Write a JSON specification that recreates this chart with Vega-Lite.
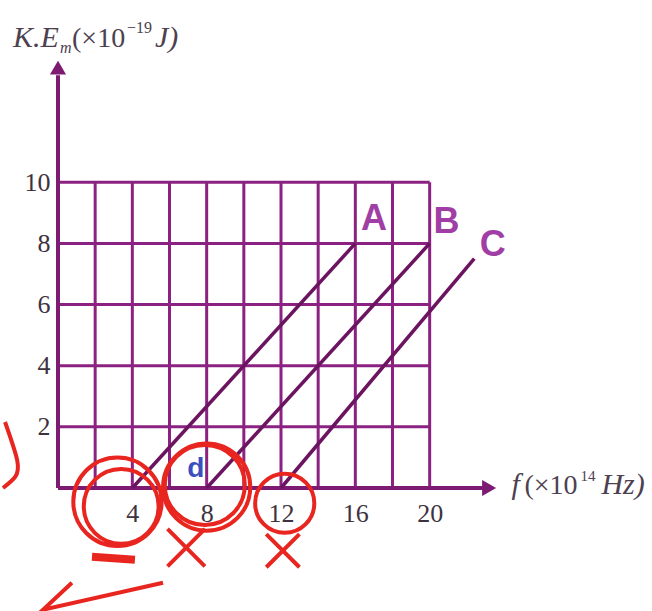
{
  "$schema": "https://vega.github.io/schema/vega-lite/v6.json",
  "width": 446,
  "height": 428,
  "autosize": {"type": "none"},
  "padding": {"left": 58, "top": 60, "right": 148, "bottom": 123},
  "background": "white",
  "config": {"view": {"stroke": null}},
  "datasets": {
    "gridx": [{"f": 2}, {"f": 4}, {"f": 6}, {"f": 8}, {"f": 10}, {"f": 12}, {"f": 14}, {"f": 16}, {"f": 18}, {"f": 20}],
    "gridy": [{"ke": 2}, {"ke": 4}, {"ke": 6}, {"ke": 8}, {"ke": 10}],
    "lines": [
      {"series": "A", "f": 4, "ke": 0},
      {"series": "A", "f": 16, "ke": 8},
      {"series": "B", "f": 8, "ke": 0},
      {"series": "B", "f": 20, "ke": 8},
      {"series": "C", "f": 12, "ke": 0},
      {"series": "C", "f": 22.4, "ke": 7.5}
    ],
    "labels": [
      {"series": "A", "f": 17.0, "ke": 8.8},
      {"series": "B", "f": 20.9, "ke": 8.7},
      {"series": "C", "f": 23.4, "ke": 7.95}
    ],
    "one": [{}],
    "check": [
      {"o": 1, "f": 0.75, "ke": -3.1},
      {"o": 2, "f": -0.8, "ke": -3.98},
      {"o": 3, "f": 5.65, "ke": -3.1}
    ],
    "bracket": [
      {"o": 1, "f": -2.85, "ke": 2.16},
      {"o": 2, "f": -2.2, "ke": 0.92},
      {"o": 3, "f": -2.31, "ke": 0.36},
      {"o": 4, "f": -2.96, "ke": 0.0}
    ],
    "blob": [
      {"o": 1, "f": 1.83, "ke": -2.25},
      {"o": 2, "f": 4.14, "ke": -2.35}
    ]
  },
  "layer": [
    {
      "data": {"name": "gridx"},
      "mark": {"type": "rule", "color": "#8b2282", "strokeWidth": 3},
      "encoding": {
        "x": {
          "field": "f", "type": "quantitative",
          "scale": {"domain": [0, 24], "nice": false, "zero": false},
          "axis": {
            "values": [4, 8, 12, 16, 20], "domain": false, "ticks": false, "grid": false,
            "title": null, "labelFont": "Liberation Serif", "labelFontSize": 26,
            "labelColor": "#3d3340", "labelPadding": 12
          }
        },
        "y": {
          "datum": 0, "type": "quantitative",
          "scale": {"domain": [0, 14], "nice": false, "zero": false},
          "axis": {
            "values": [2, 4, 6, 8, 10], "domain": false, "ticks": false, "grid": false,
            "title": null, "labelFont": "Liberation Serif", "labelFontSize": 26,
            "labelColor": "#3d3340", "labelPadding": 8
          }
        },
        "y2": {"datum": 10}
      }
    },
    {
      "data": {"name": "gridy"},
      "mark": {"type": "rule", "color": "#8b2282", "strokeWidth": 3},
      "encoding": {
        "y": {"field": "ke", "type": "quantitative"},
        "x": {"datum": 0, "type": "quantitative"},
        "x2": {"datum": 20}
      }
    },
    {
      "data": {"name": "one"},
      "mark": {"type": "rule", "color": "#7d1a72", "strokeWidth": 4},
      "encoding": {
        "x": {"datum": 0, "type": "quantitative"},
        "x2": {"datum": 23.0},
        "y": {"datum": 0, "type": "quantitative"}
      }
    },
    {
      "data": {"name": "one"},
      "mark": {"type": "rule", "color": "#7d1a72", "strokeWidth": 4},
      "encoding": {
        "x": {"datum": 0, "type": "quantitative"},
        "y": {"datum": 0, "type": "quantitative"},
        "y2": {"datum": 13.5}
      }
    },
    {
      "data": {"name": "one"},
      "mark": {"type": "point", "shape": "triangle-right", "filled": true, "color": "#7d1a72", "opacity": 1, "size": 260},
      "encoding": {
        "x": {"datum": 23.2, "type": "quantitative"},
        "y": {"datum": 0, "type": "quantitative"}
      }
    },
    {
      "data": {"name": "one"},
      "mark": {"type": "point", "shape": "triangle-up", "filled": true, "color": "#7d1a72", "opacity": 1, "size": 260},
      "encoding": {
        "x": {"datum": 0, "type": "quantitative"},
        "y": {"datum": 13.75, "type": "quantitative"}
      }
    },
    {
      "data": {"name": "lines"},
      "mark": {"type": "line", "color": "#6b1460", "strokeWidth": 3.5},
      "encoding": {
        "x": {"field": "f", "type": "quantitative"},
        "y": {"field": "ke", "type": "quantitative"},
        "detail": {"field": "series"}
      }
    },
    {
      "data": {"name": "labels"},
      "mark": {"type": "text", "font": "Liberation Sans", "fontWeight": "bold", "fontSize": 36, "color": "#a03ea6", "baseline": "middle", "align": "center"},
      "encoding": {
        "x": {"field": "f", "type": "quantitative"},
        "y": {"field": "ke", "type": "quantitative"},
        "text": {"field": "series"}
      }
    },
    {
      "data": {"name": "one"},
      "mark": {"type": "text", "font": "Liberation Sans", "fontWeight": "bold", "fontSize": 28, "color": "#3a4fc0", "baseline": "middle", "align": "center"},
      "encoding": {
        "x": {"datum": 7.42, "type": "quantitative"},
        "y": {"datum": 0.62, "type": "quantitative"},
        "text": {"value": "d"}
      }
    },
    {
      "data": {"name": "one"},
      "mark": {"type": "text", "font": "Liberation Serif", "fontStyle": "italic", "fontSize": 30, "color": "#4d4150", "baseline": "alphabetic", "align": "left"},
      "encoding": {
        "x": {"datum": -2.42, "type": "quantitative"},
        "y": {"datum": 14.41, "type": "quantitative"},
        "text": {"value": "K.E"}
      }
    },
    {
      "data": {"name": "one"},
      "mark": {"type": "text", "font": "Liberation Serif", "fontStyle": "italic", "fontSize": 16, "color": "#4d4150", "baseline": "alphabetic", "align": "left", "dx": 47, "dy": 6},
      "encoding": {
        "x": {"datum": -2.42, "type": "quantitative"},
        "y": {"datum": 14.41, "type": "quantitative"},
        "text": {"value": "m"}
      }
    },
    {
      "data": {"name": "one"},
      "mark": {"type": "text", "font": "Liberation Serif", "fontSize": 28, "color": "#4d4150", "baseline": "alphabetic", "align": "left", "dx": 59},
      "encoding": {
        "x": {"datum": -2.42, "type": "quantitative"},
        "y": {"datum": 14.41, "type": "quantitative"},
        "text": {"value": "(×10"}
      }
    },
    {
      "data": {"name": "one"},
      "mark": {"type": "text", "font": "Liberation Serif", "fontSize": 16, "color": "#4d4150", "baseline": "alphabetic", "align": "left", "dx": 114, "dy": -14},
      "encoding": {
        "x": {"datum": -2.42, "type": "quantitative"},
        "y": {"datum": 14.41, "type": "quantitative"},
        "text": {"value": "−19"}
      }
    },
    {
      "data": {"name": "one"},
      "mark": {"type": "text", "font": "Liberation Serif", "fontStyle": "italic", "fontSize": 30, "color": "#4d4150", "baseline": "alphabetic", "align": "left", "dx": 142},
      "encoding": {
        "x": {"datum": -2.42, "type": "quantitative"},
        "y": {"datum": 14.41, "type": "quantitative"},
        "text": {"value": "J)"}
      }
    },
    {
      "data": {"name": "one"},
      "mark": {"type": "text", "font": "Liberation Serif", "fontStyle": "italic", "fontSize": 30, "color": "#4d4150", "baseline": "alphabetic", "align": "left"},
      "encoding": {
        "x": {"datum": 24.4, "type": "quantitative"},
        "y": {"datum": -0.2, "type": "quantitative"},
        "text": {"value": "f"}
      }
    },
    {
      "data": {"name": "one"},
      "mark": {"type": "text", "font": "Liberation Serif", "fontSize": 28, "color": "#4d4150", "baseline": "alphabetic", "align": "left", "dx": 13},
      "encoding": {
        "x": {"datum": 24.4, "type": "quantitative"},
        "y": {"datum": -0.2, "type": "quantitative"},
        "text": {"value": "(×10"}
      }
    },
    {
      "data": {"name": "one"},
      "mark": {"type": "text", "font": "Liberation Serif", "fontSize": 15, "color": "#4d4150", "baseline": "alphabetic", "align": "left", "dx": 69, "dy": -13},
      "encoding": {
        "x": {"datum": 24.4, "type": "quantitative"},
        "y": {"datum": -0.2, "type": "quantitative"},
        "text": {"value": "14"}
      }
    },
    {
      "data": {"name": "one"},
      "mark": {"type": "text", "font": "Liberation Serif", "fontStyle": "italic", "fontSize": 30, "color": "#4d4150", "baseline": "alphabetic", "align": "left", "dx": 90},
      "encoding": {
        "x": {"datum": 24.4, "type": "quantitative"},
        "y": {"datum": -0.2, "type": "quantitative"},
        "text": {"value": "Hz)"}
      }
    },
    {
      "data": {"name": "one"},
      "mark": {"type": "point", "shape": "circle", "filled": false, "color": "#e8251f", "strokeWidth": 4, "opacity": 1, "size": 7800},
      "encoding": {
        "x": {"datum": 3.2, "type": "quantitative"},
        "y": {"datum": -0.45, "type": "quantitative"}
      }
    },
    {
      "data": {"name": "one"},
      "mark": {"type": "point", "shape": "circle", "filled": false, "color": "#e8251f", "strokeWidth": 4, "opacity": 1, "size": 5600},
      "encoding": {
        "x": {"datum": 3.4, "type": "quantitative"},
        "y": {"datum": -0.6, "type": "quantitative"}
      }
    },
    {
      "data": {"name": "one"},
      "mark": {"type": "point", "shape": "circle", "filled": false, "color": "#e8251f", "strokeWidth": 4, "opacity": 1, "size": 7600},
      "encoding": {
        "x": {"datum": 8.0, "type": "quantitative"},
        "y": {"datum": 0.03, "type": "quantitative"}
      }
    },
    {
      "data": {"name": "one"},
      "mark": {"type": "point", "shape": "circle", "filled": false, "color": "#e8251f", "strokeWidth": 4, "opacity": 1, "size": 6400},
      "encoding": {
        "x": {"datum": 7.9, "type": "quantitative"},
        "y": {"datum": 0.1, "type": "quantitative"}
      }
    },
    {
      "data": {"name": "one"},
      "mark": {"type": "point", "shape": "circle", "filled": false, "color": "#e8251f", "strokeWidth": 4, "opacity": 1, "size": 3500},
      "encoding": {
        "x": {"datum": 12.2, "type": "quantitative"},
        "y": {"datum": -0.5, "type": "quantitative"}
      }
    },
    {
      "data": {"name": "one"},
      "mark": {"type": "point", "shape": "M-1,-1L1,1M-1,1L1,-1", "filled": false, "color": "#e8251f", "strokeWidth": 4, "opacity": 1, "size": 1400},
      "encoding": {
        "x": {"datum": 6.9, "type": "quantitative"},
        "y": {"datum": -1.95, "type": "quantitative"}
      }
    },
    {
      "data": {"name": "one"},
      "mark": {"type": "point", "shape": "M-1,-1L1,1M-1,1L1,-1", "filled": false, "color": "#e8251f", "strokeWidth": 4, "opacity": 1, "size": 1100},
      "encoding": {
        "x": {"datum": 12.1, "type": "quantitative"},
        "y": {"datum": -2.05, "type": "quantitative"}
      }
    },
    {
      "data": {"name": "check"},
      "mark": {"type": "line", "color": "#e8251f", "strokeWidth": 4},
      "encoding": {
        "x": {"field": "f", "type": "quantitative"},
        "y": {"field": "ke", "type": "quantitative"},
        "order": {"field": "o"}
      }
    },
    {
      "data": {"name": "bracket"},
      "mark": {"type": "line", "color": "#e8251f", "strokeWidth": 4, "interpolate": "natural"},
      "encoding": {
        "x": {"field": "f", "type": "quantitative"},
        "y": {"field": "ke", "type": "quantitative"},
        "order": {"field": "o"}
      }
    },
    {
      "data": {"name": "blob"},
      "mark": {"type": "line", "color": "#e8251f", "strokeWidth": 8},
      "encoding": {
        "x": {"field": "f", "type": "quantitative"},
        "y": {"field": "ke", "type": "quantitative"},
        "order": {"field": "o"}
      }
    }
  ]
}
